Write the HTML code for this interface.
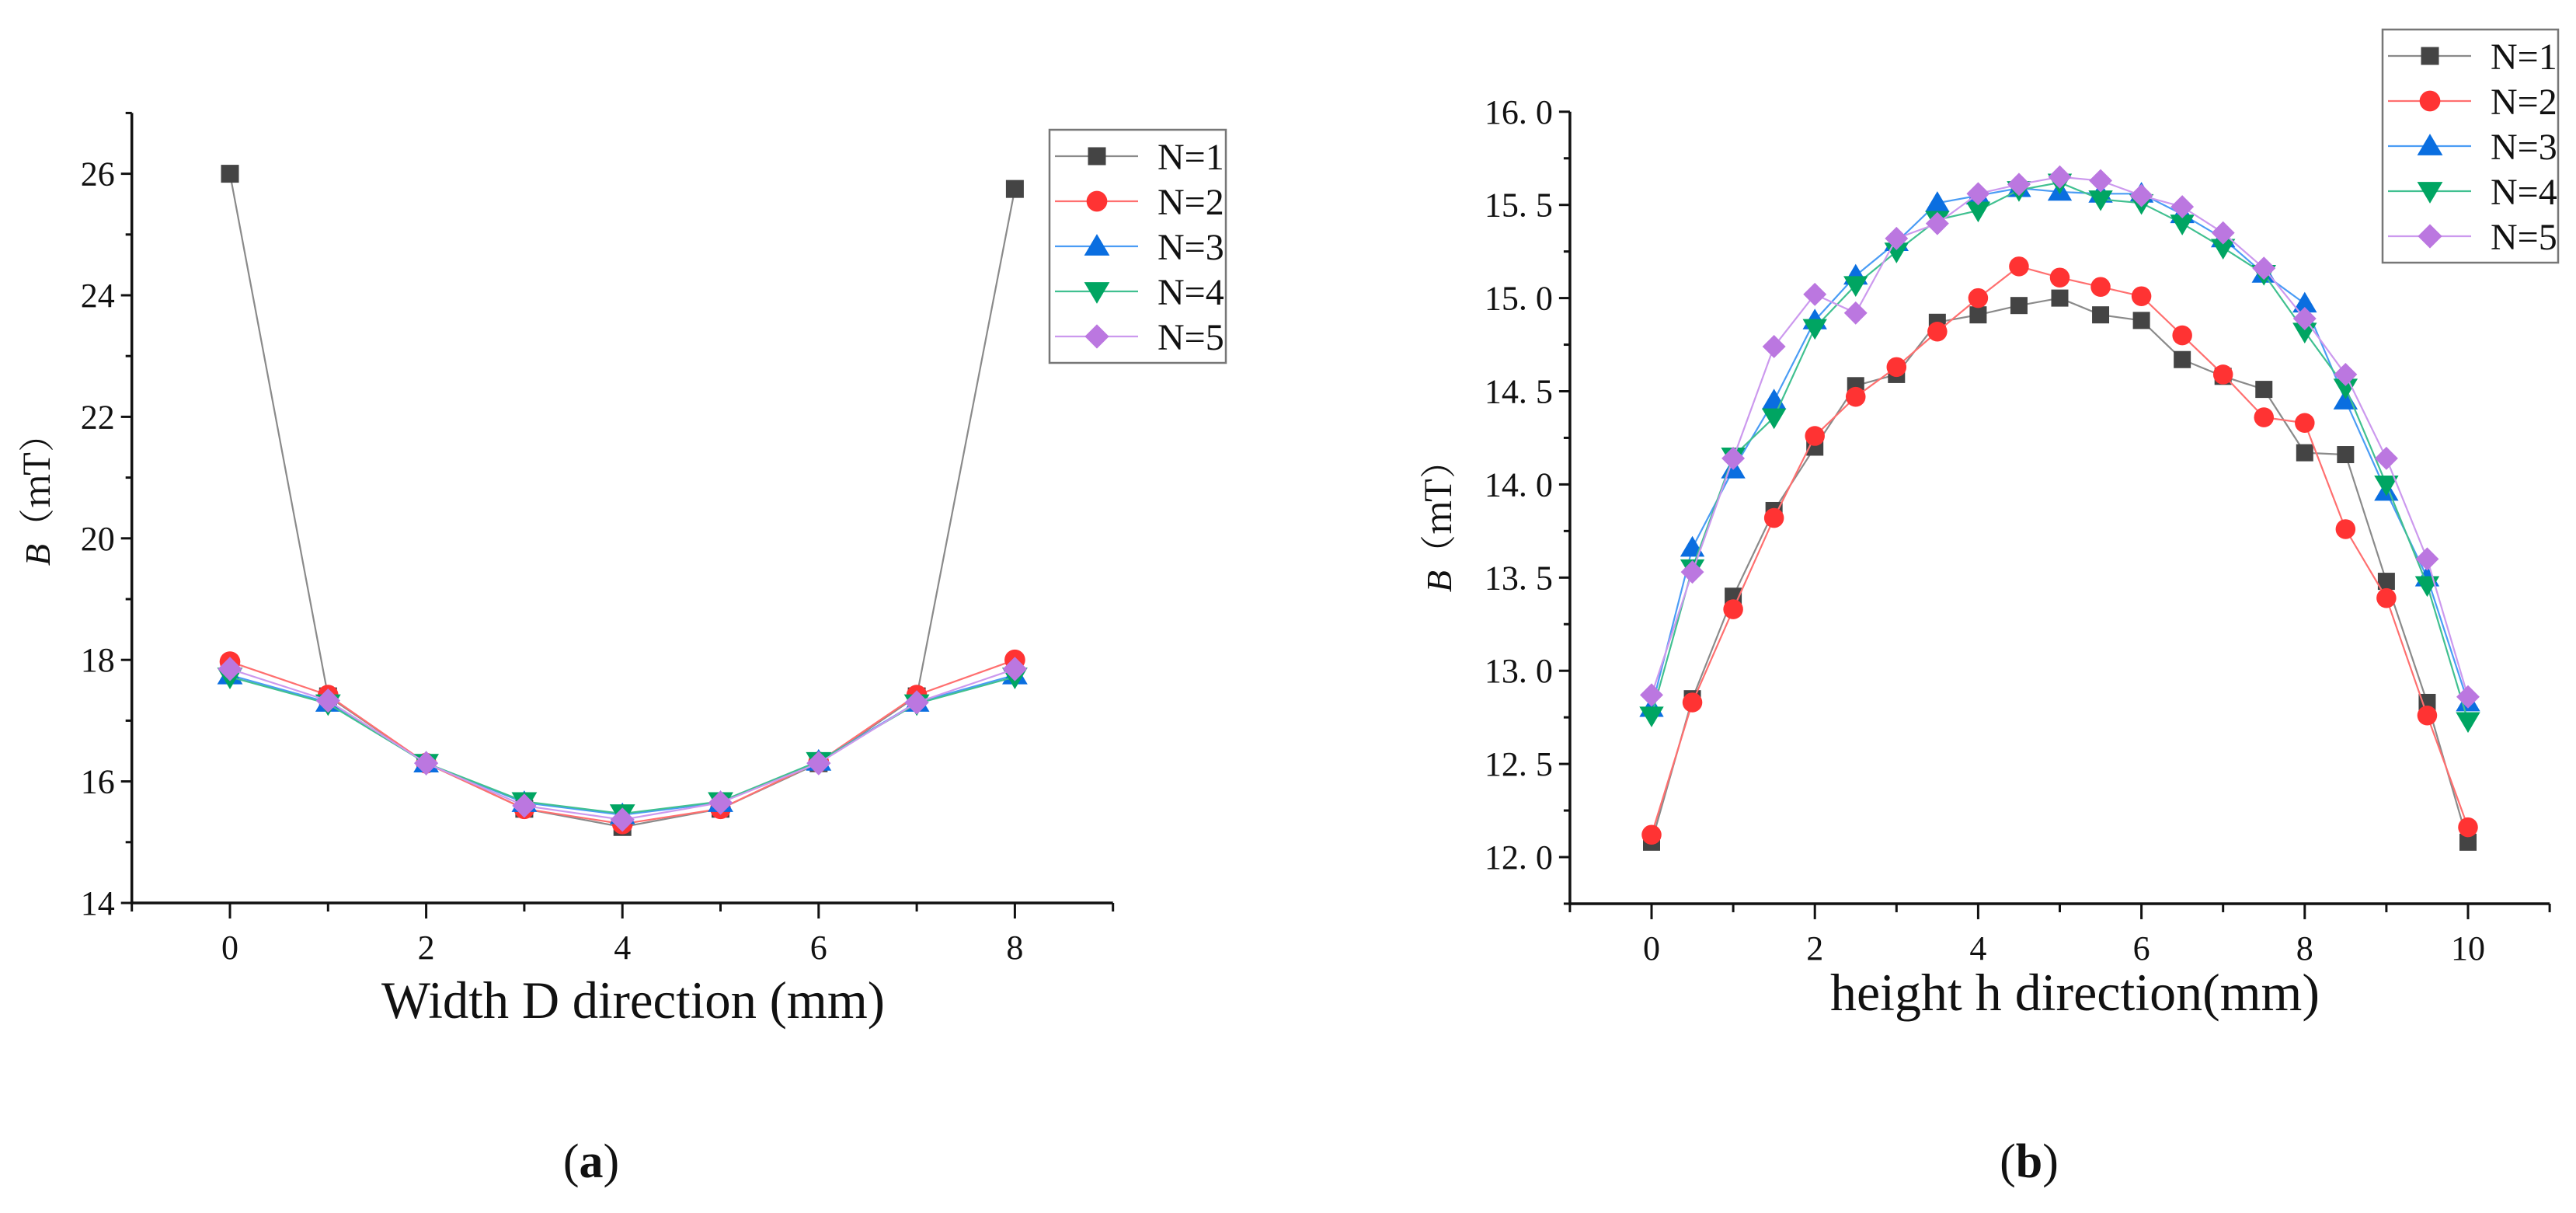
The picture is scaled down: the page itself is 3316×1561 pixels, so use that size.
<!DOCTYPE html>
<html><head><meta charset="utf-8"><style>
html,body{margin:0;padding:0;background:#fff;}
svg{display:block;}
text{font-family:"Liberation Serif","Noto Serif CJK SC",serif;fill:#111;}
</style></head><body>
<svg id="fig" width="3316" height="1561" viewBox="0 0 3316 1561" xmlns="http://www.w3.org/2000/svg">
<rect width="3316" height="1561" fill="#fff"/>
<g id="chartA"></g>
<g id="chartB"></g>
<text x="761" y="1515" font-size="62" text-anchor="middle">(<tspan font-weight="bold">a</tspan>)</text>
<text x="2612" y="1515" font-size="62" text-anchor="middle">(<tspan font-weight="bold">b</tspan>)</text>
</svg>
<script>
// ---- Chart A data ----
const xA = [0,1,2,3,4,5,6,7,8];
const a1 = [26.0,17.4,16.3,15.55,15.25,15.55,16.3,17.4,25.75];
const a2 = [17.97,17.42,16.3,15.55,15.3,15.55,16.32,17.42,18.0];
const a3 = [17.75,17.3,16.3,15.65,15.45,15.65,16.33,17.3,17.75];
const a4 = [17.72,17.28,16.3,15.67,15.47,15.67,16.33,17.28,17.72];
const a5 = [17.85,17.33,16.3,15.6,15.37,15.65,16.3,17.3,17.85];
const xTicksA = [0,2,4,6,8];
const yTicksA = [14,16,18,20,22,24,26];
// ---- Chart B data ----
const xB = [0,0.5,1,1.5,2,2.5,3,3.5,4,4.5,5,5.5,6,6.5,7,7.5,8,8.5,9,9.5,10];
const b1 = [12.08,12.85,13.40,13.86,14.20,14.53,14.59,14.87,14.91,14.96,15.00,14.91,14.88,14.67,14.58,14.51,14.17,14.16,13.48,12.83,12.08];
const b2 = [12.12,12.83,13.33,13.82,14.26,14.47,14.63,14.82,15.00,15.17,15.11,15.06,15.01,14.80,14.59,14.36,14.33,13.76,13.39,12.76,12.16];
const b3 = [12.80,13.66,14.08,14.45,14.88,15.12,15.30,15.51,15.55,15.59,15.57,15.56,15.56,15.45,15.32,15.13,14.97,14.45,13.96,13.50,12.83];
const b4 = [12.76,13.55,14.15,14.36,14.84,15.07,15.25,15.42,15.47,15.58,15.62,15.53,15.51,15.40,15.27,15.13,14.82,14.52,14.00,13.46,12.73];
const b5 = [12.87,13.53,14.14,14.74,15.02,14.92,15.32,15.40,15.56,15.61,15.65,15.63,15.55,15.49,15.35,15.16,14.89,14.59,14.14,13.60,12.86];
const xTicksB = [0,2,4,6,8,10];
const yTicksB = [12.0,12.5,13.0,13.5,14.0,14.5,15.0,15.5,16.0];
const seriesNames = ["N=1","N=2","N=3","N=4","N=5"];

const NS="http://www.w3.org/2000/svg";
const styles=[
 {m:"#444444",l:"#8a8a8a",s:"square"},
 {m:"#ff3333",l:"#ff6f6f",s:"circle"},
 {m:"#0a6ee0",l:"#4a9cf5",s:"up"},
 {m:"#00a562",l:"#40c090",s:"down"},
 {m:"#bb77e0",l:"#cc99ee",s:"diamond"}];
function mk(tag,attrs,parent){const e=document.createElementNS(NS,tag);for(const k in attrs)e.setAttribute(k,attrs[k]);parent.appendChild(e);return e;}
function marker(g,shape,cx,cy,color,sz){
  let e;
  if(shape==="square"){e=mk("rect",{x:cx-sz*0.5,y:cy-sz*0.5,width:sz,height:sz,fill:color},g);}
  else if(shape==="circle"){e=mk("circle",{cx:cx,cy:cy,r:sz*0.58,fill:color},g);}
  else if(shape==="up"){const h=sz*1.15;e=mk("polygon",{points:`${cx},${cy-h*0.6} ${cx+h*0.62},${cy+h*0.45} ${cx-h*0.62},${cy+h*0.45}`,fill:color},g);}
  else if(shape==="down"){const h=sz*1.15;e=mk("polygon",{points:`${cx},${cy+h*0.6} ${cx+h*0.62},${cy-h*0.45} ${cx-h*0.62},${cy-h*0.45}`,fill:color},g);}
  else {const h=sz*0.68;e=mk("polygon",{points:`${cx},${cy-h} ${cx+h},${cy} ${cx},${cy+h} ${cx-h},${cy}`,fill:color},g);}
  return e;
}
function drawChart(g,cfg){
  const X=v=>cfg.x0+(v-cfg.xmin)*cfg.xs;
  const Y=v=>cfg.y0-(v-cfg.ymin)*cfg.ys;
  const axL=X(cfg.axXmin), axR=X(cfg.axXmax), axB=Y(cfg.axYmin), axT=Y(cfg.axYmax);
  const ax=mk("path",{d:`M${axL},${axT} L${axL},${axB} L${axR},${axB}`,fill:"none",stroke:"#111","stroke-width":3.5},g);
  
  
  for(let v=cfg.axXmin; v<=cfg.axXmax+1e-9; v+=cfg.xMinor){
    const major=Math.abs(v-Math.round(v/cfg.xMajor)*cfg.xMajor)<1e-6;
    const t=mk("line",{x1:X(v),x2:X(v),y1:axB,y2:axB+(major?20:11),stroke:"#111","stroke-width":3},g);
    
    
  }
  cfg.xTicks.forEach(v=>{
    const t=mk("text",{x:X(v),y:axB+72,"font-size":44,"text-anchor":"middle"},g);
    t.textContent=String(v);
    
    
  });
  for(let v=cfg.axYmin; v<=cfg.axYmax+1e-9; v+=cfg.yMinor){
    const major=Math.abs(v-Math.round(v/cfg.yMajor)*cfg.yMajor)<1e-6;
    const t=mk("line",{x1:axL,x2:axL-(major?14:8),y1:Y(v),y2:Y(v),stroke:"#111","stroke-width":3},g);
    
    
  }
  cfg.yTicks.forEach(v=>{
    const t=mk("text",{x:axL-22,y:Y(v)+15,"font-size":44,"text-anchor":"end"},g);
    t.textContent=cfg.fmt(v);
    
    
  });
  cfg.series.forEach((ys,i)=>{
    const sg=mk("g",{},g);
    
    
    const pts=ys.map((v,j)=>X(cfg.xs_[j])+","+Y(v)).join(" ");
    mk("polyline",{points:pts,fill:"none",stroke:styles[i].l,"stroke-width":2.2},sg);
    ys.forEach((v,j)=>{
      const m=marker(sg,styles[i].s,X(cfg.xs_[j]),Y(v),styles[i].m,cfg.msz);
      
      
    });
  });
  const yt=mk("text",{transform:`translate(${cfg.ytx},${cfg.yty}) rotate(-90)`,"font-size":46,"text-anchor":"middle"},g);
  yt.innerHTML='<tspan font-style="italic">B</tspan><tspan font-family="Noto Serif CJK SC, serif">（mT）</tspan>';
  
  
  const xt=mk("text",{x:cfg.xtx,y:cfg.xty,"font-size":68,"text-anchor":"middle",textLength:cfg.xtl,lengthAdjust:"spacingAndGlyphs"},g);
  xt.textContent=cfg.xtitle;
  
  
  const lg=mk("g",{},g);
  
  
  const L=cfg.leg;
  mk("rect",{x:L.x,y:L.y,width:L.w,height:L.h,fill:"#fff",stroke:"#777","stroke-width":2.5},lg);
  seriesNames.forEach((nm,i)=>{
    const cy=L.y+34+i*58;
    const eg=mk("g",{},lg);
    
    
    mk("line",{x1:L.x+7,x2:L.x+114,y1:cy,y2:cy,stroke:styles[i].l,"stroke-width":2.2},eg);
    marker(eg,styles[i].s,L.x+61,cy,styles[i].m,23);
    const t=mk("text",{x:L.x+139,y:cy+17,"font-size":48},eg);
    t.textContent=nm;
  });
}
drawChart(document.getElementById('chartA'),{
  x0:296,xmin:0,xs:126.3,y0:1162,ymin:14,ys:78.2,
  axXmin:-1,axXmax:9,axYmin:14,axYmax:27,xMinor:1,xMajor:2,yMinor:1,yMajor:2,
  xTicks:xTicksA,yTicks:yTicksA,fmt:v=>String(v),
  series:[a1,a2,a3,a4,a5],xs_:xA,msz:23,
  ytx:64,yty:632,xtx:815,xty:1310,xtl:648,xtitle:"Width D direction (mm)",
  leg:{x:1351,y:167,w:227,h:300}
});
drawChart(document.getElementById('chartB'),{
  x0:2126,xmin:0,xs:105.1,y0:1103,ymin:12,ys:239.8,
  axXmin:-1,axXmax:11,axYmin:11.75,axYmax:16,xMinor:1,xMajor:2,yMinor:0.25,yMajor:0.5,
  xTicks:xTicksB,yTicks:yTicksB,fmt:v=>{const s=v.toFixed(1).split('.');return s[0]+'. '+s[1];},
  series:[b1,b2,b3,b4,b5],xs_:xB,msz:22,
  ytx:1868,yty:666,xtx:2671,xty:1300,xtl:630,xtitle:"height h direction(mm)",
  leg:{x:3067,y:38,w:226,h:300}
});
</script>
</body></html>
